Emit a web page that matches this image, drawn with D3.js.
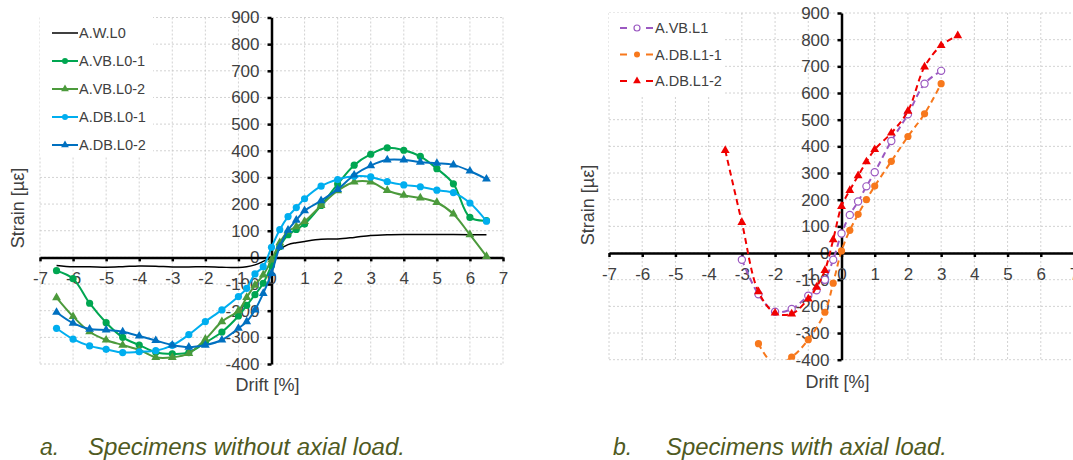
<!DOCTYPE html>
<html>
<head>
    <title>Strain vs Drift</title>
    <script src="https://cdnjs.cloudflare.com/ajax/libs/d3/7.8.5/d3.min.js"></script>
    <style>
        body {
            margin: 0;
            background: #fff;
            font-family: "Liberation Sans", Arial, sans-serif;
        }
        .grid line {
            stroke: #c6c6c6;
            stroke-width: 0.8;
            stroke-dasharray: 2,2;
        }
        .axis path, .axis line {
            stroke: #000;
            stroke-width: 2.5;
        }
        .axis text {
            font-family: "Liberation Sans", Arial, sans-serif;
            font-size: 17px;
            fill: #404040;
        }
        .axis-title {
            font-size: 18px;
            fill: #404040;
        }
        .legend-text {
            font-size: 14.5px;
            fill: #404040;
        }
        .caption {
            font-size: 23px;
            font-style: italic;
            fill: #4f5a22;
        }
    </style>
</head>
<body>
    <div id="chart"></div>

    <script>
        // ---- panel a: specimens without axial load ----
        const driftA = [-6.5, -6, -5.5, -5, -4.5, -4, -3.5, -3, -2.5, -2, -1.5, -1, -0.75, -0.5, -0.25,
                        0, 0.25, 0.5, 0.75, 1, 1.5, 2, 2.5, 3, 3.5, 4, 4.5, 5, 5.5, 6, 6.5];
        const awL0 = [-30, -35, -35, -37, -35, -32, -33, -36, -36, -35, -37, -38, -35, -28, -15,
                      0, 30, 48, 55, 60, 68, 69, 75, 82, 85, 86, 86, 86, 86, 85, 85];
        const avbL0_1 = [-50, -80, -172, -245, -300, -329, -356, -362, -357, -320, -280, -220, -180, -140, -97,
                         -30, 40, 85, 105, 125, 195, 275, 346, 387, 411, 402, 379, 333, 276, 150, 138];
        const avbL0_2 = [-151, -222, -279, -310, -329, -347, -375, -375, -360, -307, -241, -200, -150, -104, -66,
                         -10, 55, 98, 115, 135, 195, 250, 283, 283, 251, 233, 223, 206, 163, 85, 4];
        const adbL0_1 = [-266, -307, -332, -345, -357, -354, -350, -330, -290, -241, -197, -147, -116, -62, -35,
                         38, 104, 153, 187, 220, 267, 292, 304, 302, 284, 272, 265, 252, 243, 204, 136];
        const adbL0_2 = [-206, -247, -269, -272, -279, -295, -312, -329, -337, -329, -310, -266, -241, -197, -135,
                         -60, 40, 102, 140, 175, 213, 255, 309, 344, 366, 366, 357, 353, 347, 324, 294];

        // ---- panel b: specimens with axial load ----
        const driftVBL1 = [-3, -2.5, -2, -1.5, -1, -0.75, -0.5, -0.25, 0, 0.25, 0.5, 0.75, 1, 1.5, 2, 2.5, 3];
        const avbL1 = [-25, -155, -220, -210, -160, -140, -100, -25, 73, 143, 193, 250, 303, 420, 520, 635, 683];
        const driftDBL1_1 = [-2.5, -2, -1.5, -1, -0.5, -0.25, 0, 0.25, 0.5, 0.75, 1, 1.5, 2, 2.5, 3];
        const adbL1_1 = [-340, -420, -390, -325, -222, -113, 8, 85, 145, 200, 251, 344, 437, 522, 635];
        const driftDBL1_2 = [-3.5, -3, -2.5, -2, -1.5, -1, -0.75, -0.5, -0.25, 0, 0.25, 0.5, 0.75, 1, 1.5, 2, 2.5, 3, 3.5];
        const adbL1_2 = [385, 115, -145, -225, -228, -172, -128, -65, 50, 175, 235, 290, 342, 388, 450, 532, 698, 778, 815];

        const xTicks = d3.range(-7, 8, 1);
        const yTicks = d3.range(-400, 901, 100);

        const zip = (xs, ys) => xs.map((x, i) => ({ x: x, y: ys[i] }));

        const panels = [
            {
                id: 'a',
                x0: 40, x1: 503, yTop: 17.5, yBot: 364,
                legend: { x: 40, y: 17, w: 113, h: 140, firstY: 33, step: 28, lineX: 52, lineW: 26 },
                yTitleX: 18, yTitleY: 208, xTitleY: 385,
                series: [
                    { name: 'A.W.L0', color: '#000000', width: 1.5, marker: null, data: zip(driftA, awL0) },
                    { name: 'A.VB.L0-1', color: '#00a651', width: 2, marker: 'circle', data: zip(driftA, avbL0_1) },
                    { name: 'A.VB.L0-2', color: '#4c9a3c', width: 2, marker: 'triangle', data: zip(driftA, avbL0_2) },
                    { name: 'A.DB.L0-1', color: '#00aeef', width: 2, marker: 'circle', data: zip(driftA, adbL0_1) },
                    { name: 'A.DB.L0-2', color: '#0070c0', width: 2, marker: 'triangle', data: zip(driftA, adbL0_2) }
                ]
            },
            {
                id: 'b',
                x0: 609, x1: 1074, yTop: 13, yBot: 359.7,
                legend: { x: 609, y: 13, w: 116, h: 82, firstY: 28, step: 26.5, lineX: 620, lineW: 34 },
                yTitleX: 588, yTitleY: 205, xTitleY: 382,
                series: [
                    { name: 'A.VB.L1', color: '#9b59c1', width: 2, marker: 'open', dash: '6,4', data: zip(driftVBL1, avbL1) },
                    { name: 'A.DB.L1-1', color: '#f7781c', width: 2, marker: 'circle', dash: '6,4', data: zip(driftDBL1_1, adbL1_1) },
                    { name: 'A.DB.L1-2', color: '#f00000', width: 2, marker: 'triangle', dash: '6,4', data: zip(driftDBL1_2, adbL1_2) }
                ]
            }
        ];

        const svg = d3.select('#chart')
            .append('svg')
            .attr('width', 1073)
            .attr('height', 460);

        function drawMarker(g, s, px, py, small) {
            if (!s.marker) return;
            if (s.marker === 'triangle') {
                g.append('path')
                    .attr('d', d3.symbol(d3.symbolTriangle).size(small ? 26 : 34)())
                    .attr('transform', `translate(${px},${py})`)
                    .attr('fill', s.color);
            } else {
                g.append('circle')
                    .attr('cx', px).attr('cy', py)
                    .attr('r', small ? 3 : 3.6)
                    .attr('fill', s.marker === 'open' ? '#fff' : s.color)
                    .attr('stroke', s.color)
                    .attr('stroke-width', s.marker === 'open' ? 1.2 : 0);
            }
        }

        function createPanel(p) {
            const x = d3.scaleLinear().domain([-7, 7]).range([p.x0, p.x1]);
            const y = d3.scaleLinear().domain([-400, 900]).range([p.yBot, p.yTop]);
            const g = svg.append('g');

            // Grid
            g.append('g').attr('class', 'grid')
                .selectAll('line.v').data(xTicks).enter().append('line')
                .attr('x1', d => x(d)).attr('x2', d => x(d))
                .attr('y1', y(900)).attr('y2', y(-400));
            g.append('g').attr('class', 'grid')
                .selectAll('line.h').data(yTicks).enter().append('line')
                .attr('x1', x(-7)).attr('x2', x(7))
                .attr('y1', d => y(d)).attr('y2', d => y(d));

            // Legend box (covers grid)
            const L = p.legend;
            g.append('rect')
                .attr('x', L.x).attr('y', L.y)
                .attr('width', L.w).attr('height', L.h)
                .attr('fill', '#fff');

            // Axes through origin
            g.append('g')
                .attr('class', 'axis')
                .attr('transform', `translate(${x(0)},0)`)
                .call(d3.axisLeft(y).tickValues(yTicks).tickSize(4).tickSizeOuter(0)
                    .tickPadding(8).tickFormat(d => String(d)));
            g.append('g')
                .attr('class', 'axis')
                .attr('transform', `translate(0,${y(0)})`)
                .call(d3.axisBottom(x).tickValues(xTicks).tickSize(4).tickSizeOuter(0)
                    .tickPadding(11).tickFormat(d => String(d)));

            // Series
            const clipId = 'clip-' + p.id;
            svg.append('clipPath').attr('id', clipId)
                .append('rect')
                .attr('x', x(-7)).attr('y', y(900))
                .attr('width', x(7) - x(-7)).attr('height', y(-400) - y(900));

            const line = d3.line()
                .x(d => x(d.x))
                .y(d => y(d.y))
                .curve(d3.curveCatmullRom.alpha(0.5));

            const sg = g.append('g').attr('clip-path', `url(#${clipId})`);
            p.series.forEach(s => {
                sg.append('path')
                    .datum(s.data)
                    .attr('fill', 'none')
                    .attr('stroke', s.color)
                    .attr('stroke-width', s.width)
                    .attr('stroke-dasharray', s.dash || null)
                    .attr('d', line);
                s.data.forEach(d => drawMarker(sg, s, x(d.x), y(d.y), false));
            });

            // Legend items
            p.series.forEach((s, i) => {
                const ly = L.firstY + i * L.step;
                g.append('line')
                    .attr('x1', L.lineX).attr('x2', L.lineX + L.lineW)
                    .attr('y1', ly).attr('y2', ly)
                    .attr('stroke', s.color)
                    .attr('stroke-width', s.width)
                    .attr('stroke-dasharray', s.dash ? '7,6' : null);
                if (s.dash) {
                    g.append('rect')
                        .attr('x', L.lineX + L.lineW / 2 - 5).attr('y', ly - 4)
                        .attr('width', 10).attr('height', 8).attr('fill', '#fff');
                }
                drawMarker(g, s, L.lineX + L.lineW / 2, ly, true);
                g.append('text')
                    .attr('class', 'legend-text')
                    .attr('x', L.lineX + L.lineW + 1)
                    .attr('y', ly)
                    .attr('dy', '0.35em')
                    .text(s.name);
            });

            // Axis titles
            g.append('text')
                .attr('class', 'axis-title')
                .attr('transform', `translate(${p.yTitleX},${p.yTitleY}) rotate(-90)`)
                .attr('text-anchor', 'middle')
                .attr('dy', '0.35em')
                .text('Strain [µε]');
            g.append('text')
                .attr('class', 'axis-title')
                .attr('x', x(0) - 4)
                .attr('y', p.xTitleY)
                .attr('text-anchor', 'middle')
                .attr('dy', '0.35em')
                .text('Drift [%]');
        }

        panels.forEach(createPanel);

        // Captions
        const captions = [
            { tag: 'a.', text: 'Specimens without axial load.', x: 40, tx: 88, w: 317 },
            { tag: 'b.', text: 'Specimens with axial load.', x: 613, tx: 666, w: 281 }
        ];
        captions.forEach(c => {
            svg.append('text').attr('class', 'caption')
                .attr('x', c.x).attr('y', 455).text(c.tag);
            svg.append('text').attr('class', 'caption')
                .attr('x', c.tx).attr('y', 455)
                .attr('textLength', c.w)
                .attr('lengthAdjust', 'spacingAndGlyphs')
                .text(c.text);
        });
    </script>
</body>
</html>
